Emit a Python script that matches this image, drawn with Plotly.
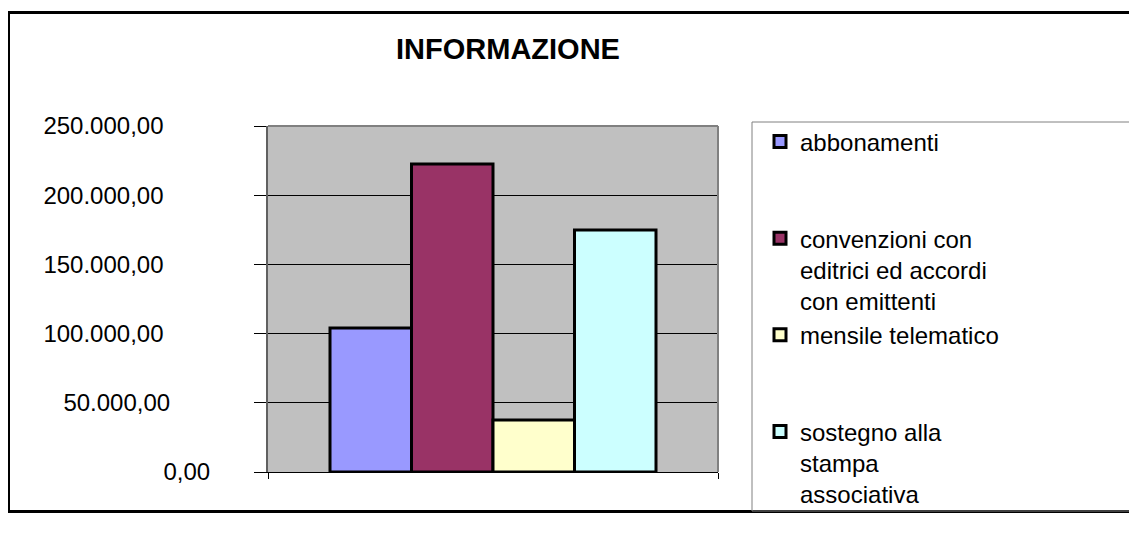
import plotly.graph_objects as go

# ---- data ----
categories = [""]
series_names = [
    "abbonamenti",
    "convenzioni con<br>editrici ed accordi<br>con emittenti",
    "mensile telematico",
    "sostegno alla<br>stampa<br>associativa",
]
series_values = [104000, 222500, 37600, 174800]
series_colors = ["#9999FF", "#993366", "#FFFFCC", "#CCFFFF"]
tick_values = [0, 50000, 100000, 150000, 200000, 250000]
tick_labels = ["0,00", "50.000,00", "100.000,00", "150.000,00", "200.000,00", "250.000,00"]
chart_title = "INFORMAZIONE"

# ---- layout geometry ----
# the page body has an 8px margin, so figure pixels = target pixels - 8
OFF = 8
W, H = 1137 - OFF, 520
PL, PR, PT, PB = 268, 718, 126, 472   # plot area in target pixels
pw, ph = PR - PL, PB - PT


def px_x(px):
    return (px - PL) / pw


def px_y(py):
    return (PB - py) / ph


FONT = "Liberation Sans, Arial, sans-serif"

fig = go.Figure()
for name, val, col in zip(series_names, series_values, series_colors):
    # pad single-line names so every legend entry has the same height
    nlines = name.count("<br>") + 1
    label = name + "<br>\u00a0" * (3 - nlines)
    fig.add_trace(go.Bar(
        x=categories, y=[val], name=label,
        marker=dict(color=col, line=dict(color="black", width=3)),
    ))

# trailing padding reproduces the original's uneven label alignment
pad = {"0,00": 0, "50.000,00": 6}
ticktext = [t + "\u00a0" * pad.get(t, 7) for t in tick_labels]

fig.update_layout(
    width=W, height=H,
    margin=dict(l=PL - OFF, r=W - (PR - OFF), t=PT - OFF, b=H - (PB - OFF), pad=0),
    paper_bgcolor="white",
    plot_bgcolor="#C0C0C0",
    font=dict(family=FONT, size=24, color="black"),
    barmode="group",
    bargap=1 - 326 / 450,
    bargroupgap=0,
    showlegend=True,
    legend=dict(
        x=px_x(760), y=px_y(119.5), xanchor="left", yanchor="top",
        bgcolor="rgba(0,0,0,0)", borderwidth=0,
        valign="top", traceorder="normal", maxheight=480,
        font=dict(family=FONT, size=24, color="black"),
    ),
    title=dict(
        text="<b>" + chart_title + "</b>",
        x=(508 - OFF) / W, xanchor="center", xref="container",
        y=1 - (49 - OFF) / H, yanchor="middle", yref="container",
        font=dict(family=FONT, size=29, color="black"),
    ),
)

fig.update_yaxes(
    range=[0, 250000], tickmode="array", tickvals=tick_values, ticktext=ticktext,
    showgrid=True, gridcolor="black", gridwidth=1,
    zeroline=False,
    showline=True, linecolor="#606060", linewidth=2,
    ticks="outside", ticklen=12, tickcolor="black", tickwidth=1,
    ticklabelstandoff=39,
)
fig.update_xaxes(
    showticklabels=False, tickson="boundaries",
    ticks="outside", ticklen=6, tickcolor="black",
    showline=True, linecolor="black", linewidth=1,
    showgrid=False, zeroline=False,
)

# outer chart frame (right side runs off the page)
fig.add_shape(type="rect", xref="paper", yref="paper",
              x0=px_x(8.5), x1=px_x(1160), y0=px_y(511.5), y1=px_y(12.5),
              line=dict(color="black", width=3), fillcolor="rgba(0,0,0,0)", layer="above")
# legend frame
fig.add_shape(type="rect", xref="paper", yref="paper",
              x0=px_x(752), x1=px_x(1160), y0=px_y(511), y1=px_y(122),
              line=dict(color="#808080", width=1), fillcolor="rgba(0,0,0,0)", layer="above")
# plot area border (top and right, gray)
fig.add_shape(type="line", xref="paper", yref="paper", x0=0, x1=1, y0=1, y1=1,
              line=dict(color="#808080", width=2), layer="above")
fig.add_shape(type="line", xref="paper", yref="paper", x0=1, x1=1, y0=0, y1=1,
              line=dict(color="#808080", width=2), layer="above")

fig.write_html("out.html")
